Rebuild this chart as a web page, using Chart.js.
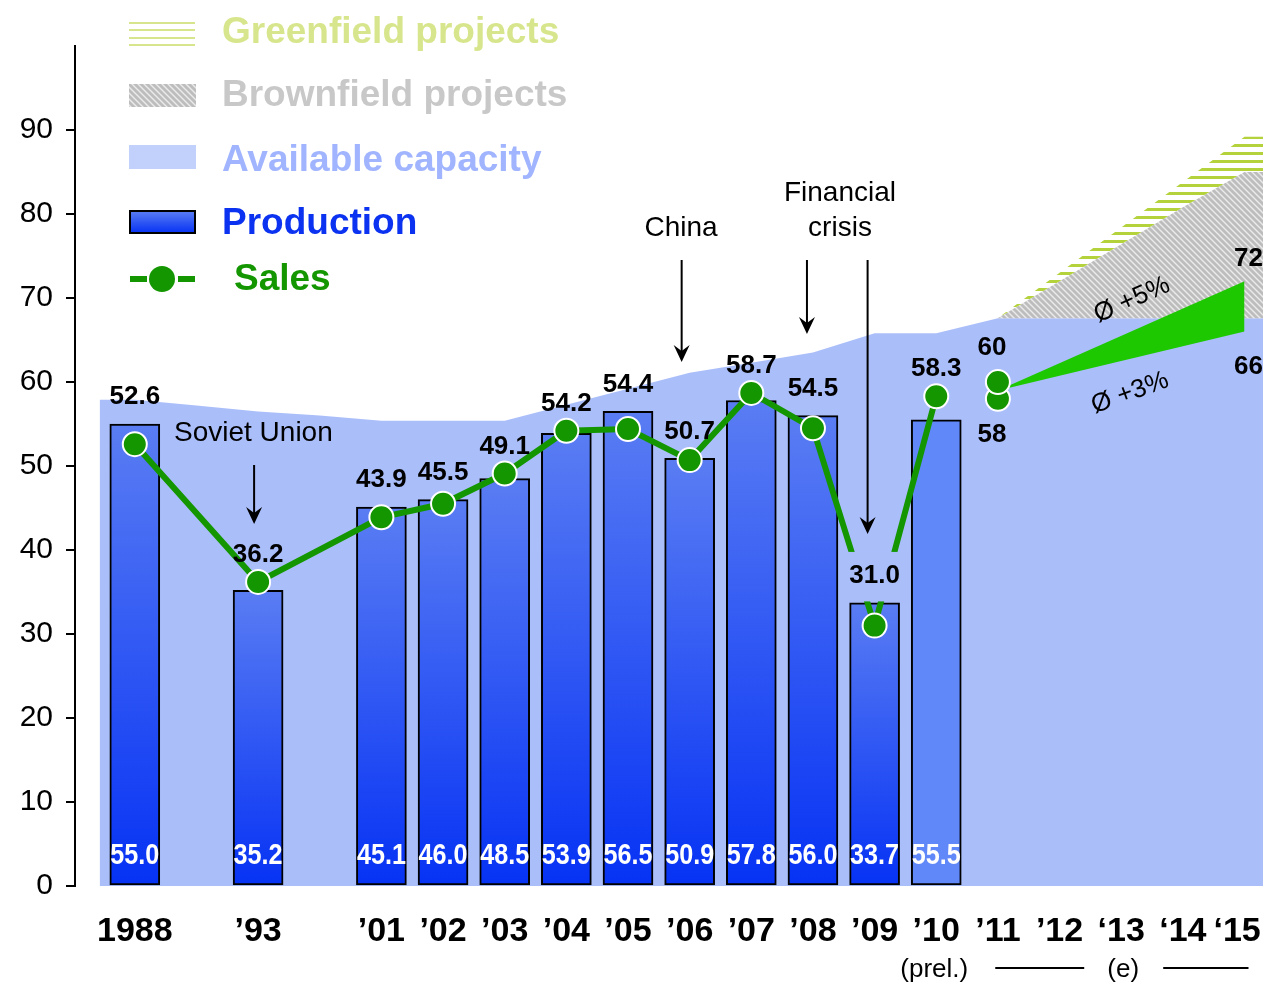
<!DOCTYPE html>
<html>
<head>
<meta charset="utf-8">
<script src="https://cdn.jsdelivr.net/npm/chart.js@4.4.1/dist/chart.umd.min.js"></script>
<style>
  html, body { margin: 0; padding: 0; background: #fff; overflow: hidden; }
  #wrap { width: 1263px; height: 986px; position: relative; }
</style>
</head>
<body>
<div id="wrap"><canvas id="chart" width="1263" height="986"></canvas></div>
<script>
// slots on the x axis (blank slots keep the gaps between 1988, '93 and '01)
const categories = ['1988', '', '\u201993', '', '\u201901', '\u201902', '\u201903', '\u201904', '\u201905', '\u201906',
  '\u201907', '\u201908', '\u201909', '\u201910', '\u201911', '\u201912', '\u201813', '\u201814', '\u201815'];

const production = [55.0, null, 35.2, null, 45.1, 46.0, 48.5, 53.9, 56.5, 50.9, 57.8, 56.0, 33.7, 55.5];
const sales = [52.6, null, 36.2, null, 43.9, 45.5, 49.1, 54.2, 54.4, 50.7, 58.7, 54.5, 31.0, 58.3];
const sales2011 = [58, 60];
const capacity = [57.9, 57.2, 56.5, 56.0, 55.4, 55.4, 55.4, 57.3, 59.2, 61.1, 62.3, 63.5, 65.8, 65.8,
  67.6, 67.6, 67.6, 67.6, 67.6];
// '11 .. '15
const brownfield = [67.6, 72.0, 76.4, 80.8, 85.0];
const greenfield = [67.6, 73.0, 78.4, 83.8, 89.2];
// '11 -> '15 sales outlook
const outlookHigh = [59, 72];
const outlookLow = [59, 66];

const forecastStart = 14;   // '11
const forecastEnd = 18;     // '15
const prelIndex = 13;       // '10 (prel.)
const boxedLabel = '\u201909';

const xMin = -0.97, xMax = 18.3;
const capStart = -0.57;
const lastLabelFit = xMax - 0.42;   // keep the last year label inside the canvas

const capColor = '#AABEFA';
const salesGreen = '#149600';
const wedgeGreen = '#1EC800';
const sans = "'Liberation Sans', Arial, sans-serif";

function makePattern(w, h, paint) {
  const c = document.createElement('canvas');
  c.width = w; c.height = h;
  const g = c.getContext('2d');
  paint(g, w, h);
  return g.createPattern(c, 'repeat');
}

const greenPattern = makePattern(8, 8, g => {
  g.fillStyle = '#B4D23C';
  g.fillRect(0, 0, 8, 3);
});

const brownPattern = makePattern(6, 6, g => {
  g.fillStyle = '#BDBDBD';
  g.fillRect(0, 0, 6, 6);
  g.strokeStyle = '#EBEBEB';
  g.lineWidth = 1.4;
  g.beginPath();
  g.moveTo(-1, -1); g.lineTo(7, 7);
  g.moveTo(-4, 2); g.lineTo(4, 10);
  g.moveTo(2, -4); g.lineTo(10, 4);
  g.stroke();
});

function barGradient(ctx, top, bottom) {
  const g = ctx.createLinearGradient(0, top, 0, bottom);
  g.addColorStop(0, '#5A7DF3');
  g.addColorStop(1, '#0632F4');
  return g;
}

const toPoints = (arr, start) => arr
  .map((y, i) => ({ x: (start || 0) + i, y }))
  .filter(p => p.y !== null);

const capData = [{ x: capStart, y: capacity[0] }, ...toPoints(capacity), { x: xMax, y: capacity[capacity.length - 1] }];
const brownData = [...toPoints(brownfield, forecastStart), { x: xMax, y: brownfield[brownfield.length - 1] }];
const greenData = [...toPoints(greenfield, forecastStart), { x: xMax, y: greenfield[greenfield.length - 1] }];
const highData = [{ x: forecastStart, y: outlookHigh[0] }, { x: forecastEnd, y: outlookHigh[1] }];
const lowData = [{ x: forecastStart, y: outlookLow[0] }, { x: forecastEnd, y: outlookLow[1] }];
const sales11Data = sales2011.map(v => ({ x: forecastStart, y: v }));

function arrow(ctx, x, y1, y2) {
  ctx.beginPath();
  ctx.moveTo(x, y1);
  ctx.lineTo(x, y2 - 6);
  ctx.lineWidth = 2;
  ctx.strokeStyle = '#000';
  ctx.stroke();
  ctx.beginPath();
  ctx.moveTo(x, y2);
  ctx.lineTo(x - 8, y2 - 17);
  ctx.lineTo(x, y2 - 11);
  ctx.lineTo(x + 8, y2 - 17);
  ctx.closePath();
  ctx.fillStyle = '#000';
  ctx.fill();
}

// condensed text: squeeze horizontally around the anchor point
function narrowText(ctx, text, cx, cy, squeeze) {
  ctx.save();
  ctx.translate(cx, cy);
  ctx.scale(squeeze, 1);
  ctx.fillText(text, 0, 0);
  ctx.restore();
}

const overlay = {
  id: 'overlay',
  afterDatasetsDraw(chart) {
    const { ctx, scales: { x, y } } = chart;
    ctx.save();
    ctx.textAlign = 'center';
    ctx.textBaseline = 'middle';

    // sales values
    ctx.font = 'bold 26px ' + sans;
    sales.forEach((v, i) => {
      if (v === null) return;
      const cx = x.getPixelForValue(i);
      const py = y.getPixelForValue(v);
      const bt = y.getPixelForValue(production[i]);
      const ly = Math.min(py, bt) - 27;
      if (categories[i] === boxedLabel) {
        ctx.fillStyle = capColor;
        ctx.fillRect(cx - 31, ly - 24, 62, bt - 1.5 - (ly - 24));
      }
      ctx.fillStyle = '#000';
      ctx.fillText(v.toFixed(1), cx, ly);
    });
    const c11 = x.getPixelForValue(forecastStart) - 6;
    ctx.fillText(String(sales2011[1]), c11, y.getPixelForValue(sales2011[1]) - 34);
    ctx.fillText(String(sales2011[0]), c11, y.getPixelForValue(sales2011[0]) + 36);
    const c15 = x.getPixelForValue(forecastEnd) + 4;
    ctx.fillText(String(outlookHigh[1]), c15, y.getPixelForValue(outlookHigh[1]) - 22);
    ctx.fillText(String(outlookLow[1]), c15, y.getPixelForValue(outlookLow[1]) + 35);

    // production values inside bars
    ctx.font = 'bold 30px ' + sans;
    ctx.fillStyle = '#fff';
    production.forEach((v, i) => {
      if (v === null) return;
      narrowText(ctx, v.toFixed(1), x.getPixelForValue(i), y.getPixelForValue(0) - 30, 0.84);
    });

    // growth rates
    ctx.font = '26px ' + sans;
    ctx.fillStyle = '#000';
    ctx.save();
    ctx.translate(1132, 300);
    ctx.rotate(-24 * Math.PI / 180);
    ctx.fillText('\u00d8 +5%', 0, 0);
    ctx.restore();
    ctx.save();
    ctx.translate(1130, 393);
    ctx.rotate(-20 * Math.PI / 180);
    ctx.fillText('\u00d8 +3%', 0, 0);
    ctx.restore();

    // annotations
    ctx.font = '28px ' + sans;
    ctx.textAlign = 'left';
    ctx.fillText('Soviet Union', 174, 433);
    ctx.textAlign = 'center';
    ctx.fillText('China', 681, 228);
    ctx.fillText('Financial', 840, 193);
    ctx.fillText('crisis', 840, 228);
    arrow(ctx, x.getPixelForValue(2) - 4, 465, 524);
    arrow(ctx, x.getPixelForValue(9) - 8, 260, 362);
    arrow(ctx, x.getPixelForValue(11) - 6, 260, 334);
    arrow(ctx, x.getPixelForValue(12) - 7, 260, 534);

    // (prel.) / (e)
    ctx.font = '26px ' + sans;
    const xp = x.getPixelForValue(prelIndex), xe = x.getPixelForValue(16), xl = x.getPixelForValue(forecastEnd);
    ctx.fillText('(prel.)', xp - 2, 970);
    ctx.fillText('(e)', xe + 2, 970);
    ctx.fillRect(xp + 59, 967, xe - 37 - (xp + 59), 2);
    ctx.fillRect(xe + 42, 967, xl + 4 - (xe + 42), 2);

    ctx.restore();
  },
  afterDraw(chart) {
    const ctx = chart.ctx;
    ctx.save();
    ctx.textAlign = 'left';
    ctx.textBaseline = 'middle';
    ctx.font = 'bold 37px ' + sans;

    // Greenfield
    ctx.fillStyle = '#D7E68C';
    [23, 30, 38, 45].forEach(yy => ctx.fillRect(129, yy - 1, 66, 2));
    ctx.fillText('Greenfield projects', 222, 33);

    // Brownfield
    ctx.fillStyle = brownPattern;
    ctx.fillRect(129, 84, 67, 23);
    ctx.fillStyle = '#C8C8C8';
    ctx.fillText('Brownfield projects', 222, 96);

    // Available capacity
    ctx.fillStyle = '#C2D0FC';
    ctx.fillRect(129, 145, 67, 24);
    ctx.fillStyle = '#A0B4FF';
    ctx.fillText('Available capacity', 222, 161);

    // Production
    ctx.fillStyle = barGradient(ctx, 211, 233);
    ctx.fillRect(130, 211, 65, 22);
    ctx.lineWidth = 2;
    ctx.strokeStyle = '#000';
    ctx.strokeRect(130, 211, 65, 22);
    ctx.fillStyle = '#0A32F0';
    ctx.fillText('Production', 222, 224);

    // Sales
    ctx.fillStyle = salesGreen;
    ctx.fillRect(130, 276, 17, 6);
    ctx.fillRect(178, 276, 17, 6);
    ctx.beginPath();
    ctx.arc(162, 279, 13, 0, Math.PI * 2);
    ctx.fill();
    ctx.fillText('Sales', 234, 280);
    ctx.restore();
  }
};

new Chart(document.getElementById('chart'), {
  data: {
    datasets: [
      {
        type: 'line', label: 'Available capacity', data: capData,
        fill: 'origin', backgroundColor: capColor,
        borderColor: 'rgba(0,0,0,0)', borderWidth: 0, pointRadius: 0, tension: 0, order: 7
      },
      {
        type: 'line', label: 'Brownfield projects', data: brownData,
        fill: '-1', backgroundColor: brownPattern,
        borderColor: 'rgba(0,0,0,0)', borderWidth: 0, pointRadius: 0, tension: 0, order: 6
      },
      {
        type: 'line', label: 'Greenfield projects', data: greenData,
        fill: '-1', backgroundColor: greenPattern,
        borderColor: 'rgba(0,0,0,0)', borderWidth: 0, pointRadius: 0, tension: 0, order: 5
      },
      {
        type: 'bar', label: 'Production', data: toPoints(production),
        backgroundColor: c => {
          const area = c.chart.chartArea;
          if (!area || !c.raw) return '#3355EE';
          if (c.raw.x === prelIndex) return '#6088F8';
          const ys = c.chart.scales.y;
          return barGradient(c.chart.ctx, ys.getPixelForValue(c.raw.y), ys.getPixelForValue(0));
        },
        borderColor: '#000', borderWidth: 2, borderSkipped: false,
        barThickness: 50, order: 4
      },
      {
        type: 'line', label: 'Outlook +5%', data: highData,
        fill: false, borderColor: 'rgba(0,0,0,0)', borderWidth: 0, pointRadius: 0, order: 3
      },
      {
        type: 'line', label: 'Outlook +3%', data: lowData,
        fill: '-1', backgroundColor: wedgeGreen,
        borderColor: 'rgba(0,0,0,0)', borderWidth: 0, pointRadius: 0, order: 3
      },
      {
        type: 'line', label: 'Sales', data: toPoints(sales),
        borderColor: salesGreen, borderWidth: 6, tension: 0, fill: false,
        pointRadius: 12, pointBackgroundColor: salesGreen,
        pointBorderColor: '#fff', pointBorderWidth: 2, order: 2
      },
      {
        type: 'line', label: 'Sales 2011', data: sales11Data, showLine: false,
        pointRadius: 12, pointBackgroundColor: salesGreen,
        pointBorderColor: '#fff', pointBorderWidth: 2, order: 1
      }
    ]
  },
  options: {
    responsive: false,
    animation: false,
    layout: { autoPadding: false, padding: { top: 46, left: 0, right: 0, bottom: 0 } },
    plugins: { legend: { display: false }, tooltip: { enabled: false } },
    scales: {
      x: {
        type: 'linear', min: xMin, max: xMax, offset: false,
        grid: { display: false, offset: false }, border: { display: false },
        afterBuildTicks: s => {
          s.ticks = categories
            .map((c, i) => ({ value: i, c }))
            .filter(t => t.c)
            .map(t => ({ value: Math.min(t.value, lastLabelFit), label: t.c }));
        },
        afterFit: s => { s.height = 100; s.paddingLeft = 0; s.paddingRight = 0; },
        ticks: {
          autoSkip: false, maxRotation: 0, minRotation: 0, padding: 17,
          color: '#000', font: { family: sans, size: 34, weight: 'bold', lineHeight: 1.2 },
          callback: (v, i, ticks) => ticks[i].label
        }
      },
      y: {
        min: 0, max: 100,
        afterBuildTicks: s => { s.ticks = s.ticks.filter(t => t.value <= 90); },
        afterFit: s => { s.width = 75; s.paddingTop = 0; s.paddingBottom = 0; },
        grid: { display: true, drawOnChartArea: false, drawTicks: true, tickLength: 9, color: '#000', lineWidth: 2 },
        border: { display: true, color: '#000', width: 2 },
        ticks: { stepSize: 10, padding: 13, color: '#000', font: { family: sans, size: 30 } }
      }
    }
  },
  plugins: [overlay]
});
</script>
</body>
</html>
